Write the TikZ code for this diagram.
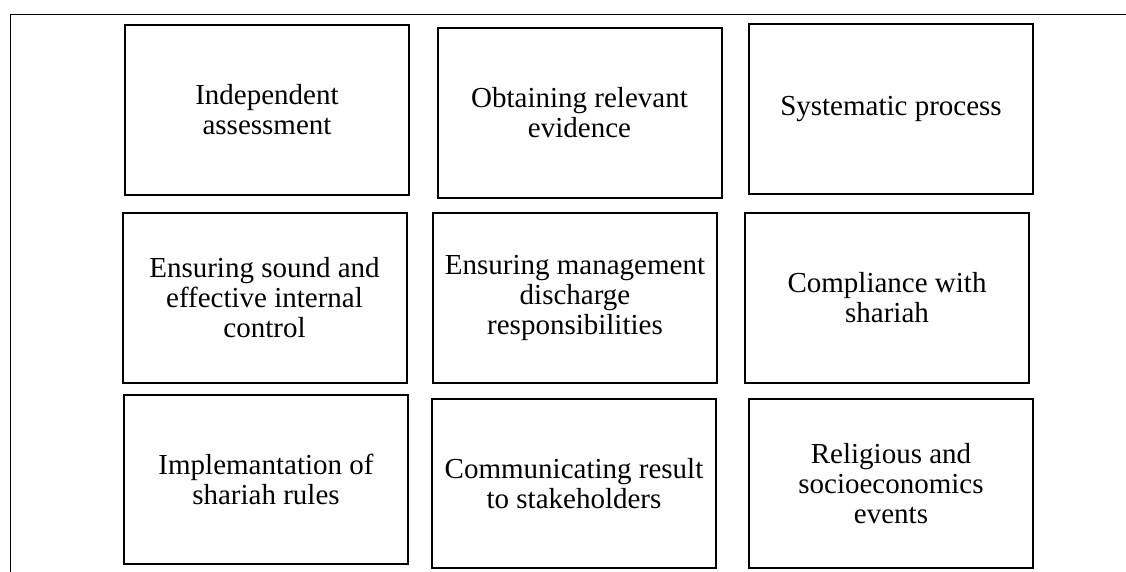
\documentclass[tikz,border=0pt]{standalone}
\usepackage{fontspec}
\setmainfont{Liberation Serif}
\begin{document}
\begin{tikzpicture}[x=1pt,y=1pt,
  cell/.style={draw=black, line width=2pt, rectangle, inner sep=0pt,
    minimum width=284pt, minimum height=170pt, align=center,
    font=\fontsize{29}{30}\selectfont},
  frame/.style={draw=black, line width=1pt}]
\useasboundingbox (0,0) rectangle (1126,-572);
\coordinate (ftl) at (10,-15);
\coordinate (ftr) at (1126,-15);
\coordinate (fbl) at (10,-572);
\draw[frame] (ftr) -- (ftl) -- (fbl);
\node[cell] (b1) at (267,-110) {Independent\\assessment};
\node[cell] (b2) at (579.5,-113) {Obtaining relevant\\evidence};
\node[cell] (b3) at (891,-109) {Systematic process};
\node[cell] (b4) at (264.5,-298) {Ensuring sound and\\effective internal\\control};
\node[cell] (b5) at (575,-298) {Ensuring management\\discharge\\responsibilities};
\node[cell] (b6) at (887,-298) {Compliance with\\shariah};
\node[cell, minimum height=169pt] (b7) at (266,-479.5) {Implemantation of\\shariah rules};
\node[cell, minimum height=169pt] (b8) at (574,-483.5) {Communicating result\\to stakeholders};
\node[cell, minimum height=169pt] (b9) at (891,-483.5) {Religious and\\socioeconomics\\events};
\end{tikzpicture}
\end{document}
